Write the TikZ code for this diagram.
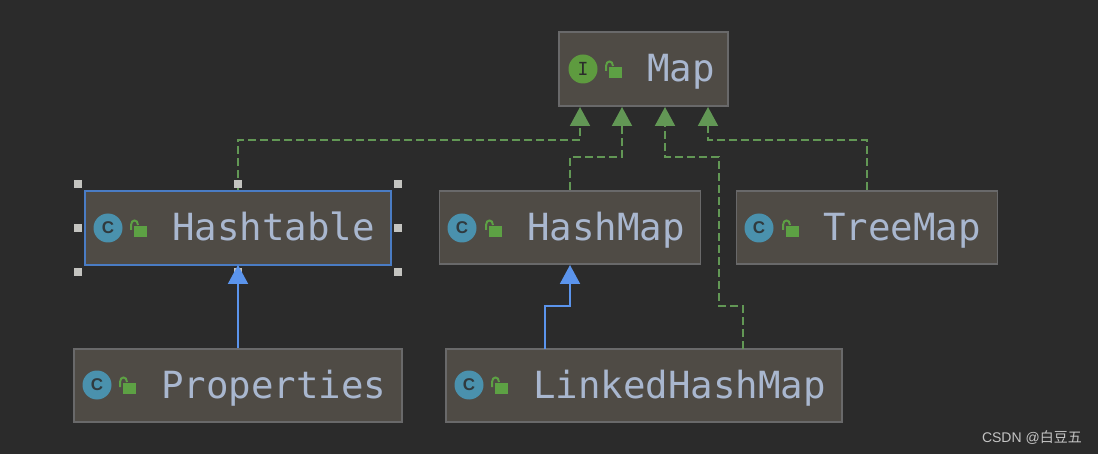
\documentclass[tikz,border=0pt]{standalone}
\usepackage{fontspec}
\setmonofont{DejaVu Sans Mono}
\setsansfont{Liberation Sans}
\newfontfamily\cjk{Noto Sans CJK SC}
\usetikzlibrary{arrows.meta,positioning}
\definecolor{bgdark}{HTML}{2B2B2B}
\definecolor{boxfill}{HTML}{4F4B45}
\definecolor{boxline}{HTML}{69696A}
\definecolor{selline}{HTML}{4A7CC4}
\definecolor{namecol}{HTML}{A9B7CF}
\definecolor{implgreen}{HTML}{629755}
\definecolor{lockgreen}{HTML}{5DA144}
\definecolor{extblue}{HTML}{5B94EC}
\definecolor{classteal}{HTML}{4A91AD}
\definecolor{ifacegreen}{HTML}{5E9B3F}
\definecolor{handlecol}{HTML}{C4C4C0}

\begin{document}
\begin{tikzpicture}[
  x=1pt, y=-1pt,
  classbox/.style={draw=boxline, fill=boxfill, line width=1.5pt, inner sep=0pt},
  classname/.style={anchor=base west, inner sep=0pt, text=namecol, font=\ttfamily\fontsize{37.4}{40}\selectfont},
  classicon/.style={circle, fill=classteal, minimum size=29pt, inner sep=0pt, text=bgdark!85!classteal, font=\sffamily\bfseries\fontsize{17}{20}\selectfont},
  ifaceicon/.style={circle, fill=ifacegreen, minimum size=29pt, inner sep=0pt, text=bgdark, font=\ttfamily\fontsize{18}{20}\selectfont},
  handle/.style={fill=handlecol, minimum size=8.5pt, inner sep=0pt},
  impl/.style={-{Triangle[length=19pt, width=20pt]}, draw=implgreen, line width=2pt, dash pattern=on 8pt off 4pt},
  ext/.style={-{Triangle[length=19pt, width=20pt]}, draw=extblue, line width=2pt},
  lockicon/.pic={
    \fill[lockgreen] (-5,-3) rectangle (8,8);
    \draw[lockgreen, line width=2pt] (-8,1) -- (-8,-4) .. controls (-8,-10) and (-1,-10) .. (-1,-4);
  }
]
\fill[bgdark] (0,0) rectangle (1098,454);
\useasboundingbox (0,0) rectangle (1098,454);

\node[classbox, minimum width=169pt, minimum height=74pt] (map) at (643.5,69) {};
\node[classbox, draw=selline, line width=2pt, minimum width=306pt, minimum height=74pt] (hashtable) at (238,228) {};
\node[classbox, minimum width=261pt, minimum height=73pt] (hashmap) at (570,227.5) {};
\node[classbox, minimum width=261pt, minimum height=73pt] (treemap) at (867,227.5) {};
\node[classbox, minimum width=328pt, minimum height=73pt] (properties) at (238,385.5) {};
\node[classbox, minimum width=396pt, minimum height=73pt] (linked) at (644,385.5) {};

\node[ifaceicon] (mapicon) at (583,69) {I};
\node[classicon] (hashtableicon) at (108,228) {C};
\node[classicon] (hashmapicon) at (462,228) {C};
\node[classicon] (treemapicon) at (759,228) {C};
\node[classicon] (propertiesicon) at (97,385) {C};
\node[classicon] (linkedicon) at (469,385) {C};

\pic at (614,70) {lockicon};
\pic at (139,229) {lockicon};
\pic at (494,229) {lockicon};
\pic at (791,229) {lockicon};
\pic at (128,386) {lockicon};
\pic at (500,386) {lockicon};

\node[classname] (mapname) at (647,82) {Map};
\node[classname] (hashtablename) at (172,241) {Hashtable};
\node[classname] (hashmapname) at (527,241) {HashMap};
\node[classname] (treemapname) at (823,241) {TreeMap};
\node[classname] (propertiesname) at (161,398) {Properties};
\node[classname] (linkedname) at (533,398) {LinkedHashMap};

\coordinate (mapa) at (580,107);
\coordinate (mapb) at (622,107);
\coordinate (mapc) at (665,107);
\coordinate (mapd) at (708,107);
\coordinate (linkedleft) at (545,349);
\coordinate (linkedright) at (743,349);
\coordinate (hashmapin) at (570,265);
\coordinate (hashtablein) at (238,265);

\draw[impl] (hashtable.north) |- (580,140) -- (mapa);
\draw[impl] (hashmap.north) |- (622,157) -- (mapb);
\draw[impl] (linkedright) |- (719,306) |- (665,157) -- (mapc);
\draw[impl] (treemap.north) |- (708,140) -- (mapd);

\node[handle] (handlea) at (78,184) {};
\node[handle] (handleb) at (238,184) {};
\node[handle] (handlec) at (398,184) {};
\node[handle] (handled) at (78,228) {};
\node[handle] (handlee) at (398,228) {};
\node[handle] (handlef) at (78,272) {};
\node[handle] (handleg) at (238,272) {};
\node[handle] (handleh) at (398,272) {};

\draw[ext] (properties.north) -- (hashtablein);
\draw[ext] (linkedleft) |- (570,306) -- (hashmapin);

\node[anchor=base east, inner sep=0pt, text=white!72!bgdark, font=\sffamily\fontsize{14}{16}\selectfont] (mark) at (1082,442) {CSDN @{\cjk 白豆五}};
\end{tikzpicture}
\end{document}
